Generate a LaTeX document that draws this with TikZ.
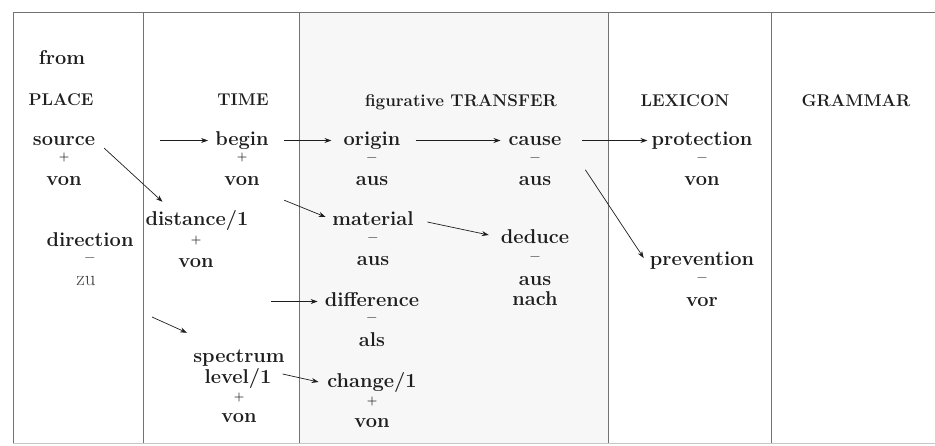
\documentclass[tikz,border=0pt]{standalone}
\usepackage{fontspec}
\usetikzlibrary{arrows.meta, positioning}
\definecolor{inkgray}{RGB}{30,30,30}
\definecolor{rulegray}{RGB}{115,115,115}
\newcommand{\cellword}{\fontsize{20}{24}\selectfont\bfseries}
\newcommand{\cellhead}{\fontsize{17}{20}\selectfont\bfseries}
\newcommand{\cellsign}{\fontsize{12}{14}\selectfont\bfseries}
\newcommand{\cellbar}{\fontsize{16}{18}\selectfont\bfseries}
\newcommand{\cellplain}{\fontsize{21}{25}\selectfont}

\begin{document}
\begin{tikzpicture}[x=1pt, y=-1pt,
    word/.style={font=\cellword, text=inkgray, anchor=base, inner sep=1pt, text height=13pt, text depth=4pt},
    head/.style={font=\cellhead, text=inkgray, anchor=base, inner sep=1pt},
    plussign/.style={font=\cellsign, text=inkgray, inner sep=0pt},
    minussign/.style={font=\cellbar, text=inkgray, inner sep=0pt},
    link/.style={-{Stealth[length=7pt,width=5pt]}, line width=0.7pt, inkgray}]
    \useasboundingbox (0,0) rectangle (935,445);

    % table frame
    \fill[black!3] (299,12) rectangle (608,443);
    \draw[gray!45, line width=0.8pt] (13,443) -- (935,443);
    \draw[rulegray, line width=1pt] (935,12) -- (13,12) -- (13,443);
    \draw[rulegray, line width=1pt] (143,12) -- (143,443);
    \draw[rulegray, line width=1pt] (299,12) -- (299,443);
    \draw[rulegray, line width=1pt] (608,12) -- (608,443);
    \draw[rulegray, line width=1pt] (771,12) -- (771,443);

    % PLACE
    \node[word] (from) at (62,64) {from};
    \node[head] (place) at (61,105) {PLACE};
    \node[word] (source) at (64,145) {source};
    \node[plussign] (source-s) at (64,158) {+};
    \node[word] (source-p) at (64,185) {von};
    \node[word] (direction) at (90,246) {direction};
    \node[minussign] (direction-s) at (90,260) {--};
    \node[word, font=\cellplain, text=black!75] (direction-p) at (86,285) {zu};

    % TIME
    \node[head] (time) at (243,105) {TIME};
    \node[word] (begin) at (242,145) {begin};
    \node[plussign] (begin-s) at (242,158) {+};
    \node[word] (begin-p) at (242,185) {von};
    \node[word] (distance) at (197,225) {distance/1};
    \node[plussign] (distance-s) at (196,241) {+};
    \node[word] (distance-p) at (196,267) {von};
    \node[word] (spectrum) at (239,362) {spectrum};
    \node[word] (level) at (238,383) {level/1};
    \node[plussign] (level-s) at (239,397) {+};
    \node[word] (level-p) at (239,422) {von};

    % figurative TRANSFER
    \node[head] (transfer) at (461,106) {figurative TRANSFER};
    \node[word] (origin) at (372,145) {origin};
    \node[minussign] (origin-s) at (372,160) {--};
    \node[word] (origin-p) at (372,185) {aus};
    \node[word] (cause) at (535,145) {cause};
    \node[minussign] (cause-s) at (535,160) {--};
    \node[word] (cause-p) at (535,185) {aus};
    \node[word] (material) at (373,225) {material};
    \node[minussign] (material-s) at (373,240) {--};
    \node[word] (material-p) at (373,265) {aus};
    \node[word] (deduce) at (535,243) {deduce};
    \node[minussign] (deduce-s) at (535,259) {--};
    \node[word] (deduce-p) at (535,285) {aus};
    \node[word] (deduce-q) at (535,305) {nach};
    \node[word] (difference) at (372,306) {difference};
    \node[minussign] (difference-s) at (372,320) {--};
    \node[word] (difference-p) at (372,346) {als};
    \node[word] (change) at (372,387) {change/1};
    \node[plussign] (change-s) at (372,401) {+};
    \node[word] (change-p) at (372,427) {von};

    % LEXICON
    \node[head] (lexicon) at (685,106) {LEXICON};
    \node[word] (protection) at (702,145) {protection};
    \node[minussign] (protection-s) at (702,160) {--};
    \node[word] (protection-p) at (702,185) {von};
    \node[word] (prevention) at (702,265) {prevention};
    \node[minussign] (prevention-s) at (702,280) {--};
    \node[word] (prevention-p) at (702,306) {vor};

    % GRAMMAR
    \node[head] (grammar) at (856,106) {GRAMMAR};

    % arrows
    \coordinate (begin-in) at (160,140.5);
    \coordinate (difference-in) at (271,301.5);
    \coordinate (spectrum-in) at (152,317);
    \draw[link] ([xshift=8pt,yshift=2pt]source.south east) -- ([xshift=18pt,yshift=9pt]distance.north west);
    \draw[link] (begin-in) -- ([xshift=-6pt]begin.west);
    \draw[link] ([xshift=14pt]begin.east) -- ([xshift=-11pt]origin.west);
    \draw[link] ([xshift=14pt]origin.east) -- ([xshift=-7pt]cause.west);
    \draw[link] ([xshift=20pt]cause.east) -- ([xshift=-3pt]protection.west);
    \draw[link] ([xshift=23.5pt,yshift=-10pt]begin-p.south east) -- ([xshift=-5.5pt,yshift=3.5pt]material.west);
    \draw[link] ([xshift=12.5pt,yshift=-1.5pt]material.east) -- ([xshift=-11pt,yshift=3.5pt]deduce.west);
    \draw[link] ([xshift=33pt,yshift=1pt]cause-p.north east) -- ([xshift=-5pt,yshift=2.5pt]prevention.west);
    \draw[link] (difference-in) -- ([xshift=-6pt]difference.west);
    \draw[link] (spectrum-in) -- ([xshift=-5pt,yshift=15pt]spectrum.north west);
    \draw[link] ([xshift=10pt,yshift=4.5pt]level.east) -- ([xshift=-7.5pt,yshift=0.5pt]change.west);
\end{tikzpicture}
\end{document}
